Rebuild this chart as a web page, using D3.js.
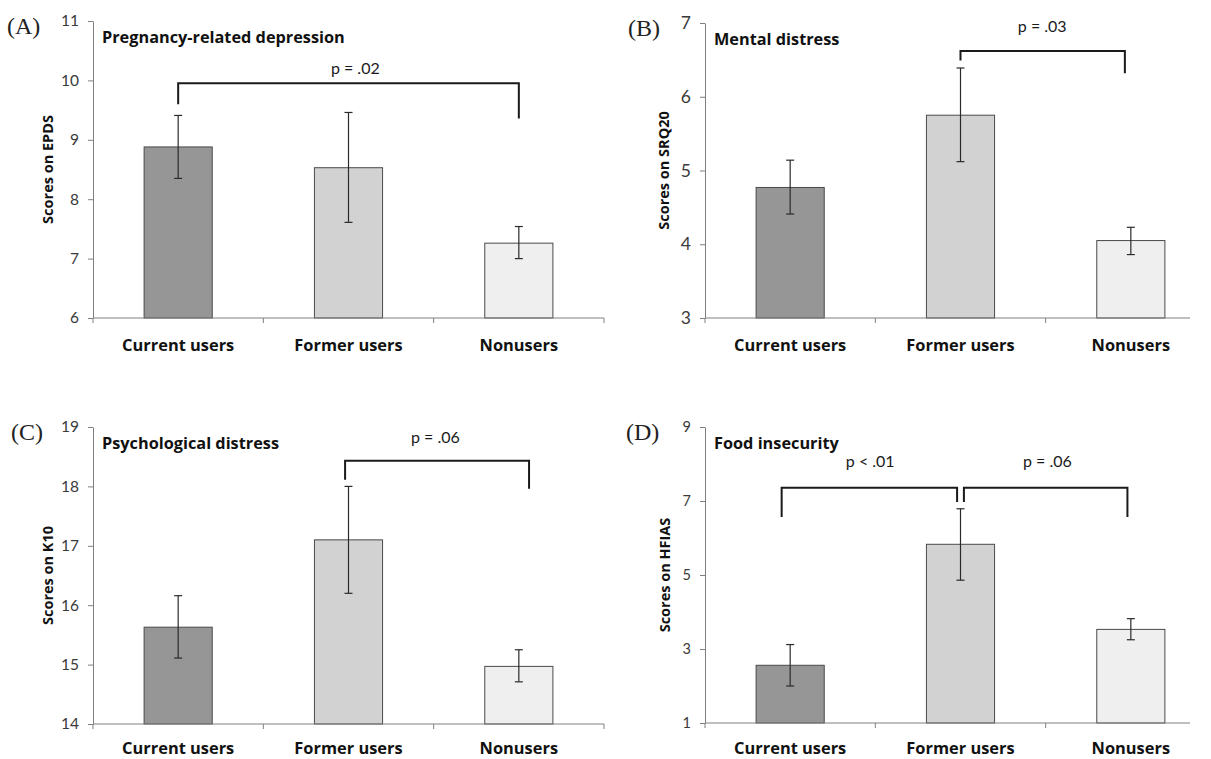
<!DOCTYPE html>
<html><head><meta charset="utf-8">
<script src="https://cdn.jsdelivr.net/npm/d3@7"></script>
<style>body{margin:0;background:#fff}svg{display:block}</style>
</head><body>
<svg id="chart" width="1211" height="759"></svg>
<script>
// ---- Data ----
const categories = ["Current users", "Former users", "Nonusers"];
const barColors = ["#969696", "#d2d2d2", "#efefef"];

const epdsMeans  = [8.88, 8.53, 7.26];
const epdsLower  = [8.35, 7.61, 7.00];
const epdsUpper  = [9.41, 9.46, 7.54];
const epdsTicks  = [6, 7, 8, 9, 10, 11];

const srqMeans   = [4.77, 5.75, 4.05];
const srqLower   = [4.41, 5.12, 3.86];
const srqUpper   = [5.14, 6.39, 4.23];
const srqTicks   = [3, 4, 5, 6, 7];

const k10Means   = [15.63, 17.10, 14.97];
const k10Lower   = [15.11, 16.20, 14.71];
const k10Upper   = [16.16, 18.00, 15.25];
const k10Ticks   = [14, 15, 16, 17, 18, 19];

const hfiasMeans = [2.56, 5.83, 3.53];
const hfiasLower = [2.00, 4.86, 3.25];
const hfiasUpper = [3.12, 6.79, 3.82];
const hfiasTicks = [1, 3, 5, 7, 9];

// brackets: [fromIndex, toIndex, level, fromEnd, toEnd, label, labelIndex, labelLevel]
const epdsBrackets  = [[0, 2, 9.95, 9.60, 9.36, "p = .02", 1.04, 10.2]];
const srqBrackets   = [[1, 1.965, 6.62, 6.49, 6.32, "p = .03", 1.48, 6.96]];
const k10Brackets   = [[0.98, 2.06, 18.43, 18.11, 17.96, "p = .06", 1.51, 18.83]];
const hfiasBrackets = [[-0.05, 0.98, 7.36, 6.57, 6.97, "p < .01", 0.47, 8.07],
                       [1.02, 1.98, 7.36, 6.97, 6.57, "p = .06", 1.51, 8.07]];

const panels = [
  {letter:"(A)", title:"Pregnancy-related depression", ytitle:"Scores on EPDS",
   means:epdsMeans, lower:epdsLower, upper:epdsUpper, ticks:epdsTicks, brackets:epdsBrackets,
   x0:93, top:21, bottom:318, xEnd:604, lineEnd:604, tickFont:15.5, ytitleX:48, letterX:7, catGap:33},
  {letter:"(B)", title:"Mental distress", ytitle:"Scores on SRQ20",
   means:srqMeans, lower:srqLower, upper:srqUpper, ticks:srqTicks, brackets:srqBrackets,
   x0:705, top:23, bottom:318, xEnd:1216, lineEnd:1190, tickFont:17.5, ytitleX:664, letterX:628, catGap:33},
  {letter:"(C)", title:"Psychological distress", ytitle:"Scores on K10",
   means:k10Means, lower:k10Lower, upper:k10Upper, ticks:k10Ticks, brackets:k10Brackets,
   x0:93, top:427, bottom:724, xEnd:604, lineEnd:604, tickFont:15.5, ytitleX:48, letterX:11, catGap:30},
  {letter:"(D)", title:"Food insecurity", ytitle:"Scores on HFIAS",
   means:hfiasMeans, lower:hfiasLower, upper:hfiasUpper, ticks:hfiasTicks, brackets:hfiasBrackets,
   x0:705, top:427, bottom:723, xEnd:1216, lineEnd:1190, tickFont:14.5, ytitleX:665, letterX:626, catGap:31}
];

const svg = d3.select("#chart");
const FONT = "'Open Sans', Lato, sans-serif";
const TFONT = "Lato, 'Open Sans', sans-serif";

panels.forEach(p => {
  const g = svg.append("g");
  const x = d3.scaleBand().domain(categories).range([p.x0, p.xEnd]).paddingInner(0).paddingOuter(0);
  const y = d3.scaleLinear().domain([p.ticks[0], p.ticks[p.ticks.length-1]]).range([p.bottom, p.top]);
  const cx = d3.scaleLinear().domain([0, 1]).range([x(categories[0]) + x.bandwidth()/2, x(categories[1]) + x.bandwidth()/2]);
  const barW = x.bandwidth() / 2.5;

  // y axis
  const ya = g.append("g").attr("transform", `translate(${p.x0},0)`)
    .call(d3.axisLeft(y).tickValues(p.ticks).tickSize(5).tickSizeOuter(0).tickPadding(9).tickFormat(d3.format("d")));
  ya.select(".domain").attr("stroke", "#808080");
  ya.selectAll(".tick line").attr("stroke", "#808080");
  ya.selectAll(".tick text").attr("font-family", TFONT).attr("font-size", p.tickFont).attr("fill", "#3a3a3a");

  // bars
  g.selectAll("rect.bar").data(categories).join("rect")
    .attr("x", d => x(d) + (x.bandwidth() - barW)/2)
    .attr("y", (d,i) => y(p.means[i]))
    .attr("width", barW)
    .attr("height", (d,i) => p.bottom - y(p.means[i]))
    .attr("fill", (d,i) => barColors[i])
    .attr("stroke", "#4a4a4a").attr("stroke-width", 1);

  // x axis line and boundary ticks
  g.append("line").attr("x1", p.x0).attr("x2", p.lineEnd).attr("y1", p.bottom).attr("y2", p.bottom)
    .attr("stroke", "#808080").attr("stroke-width", 1);
  const bounds = d3.range(categories.length + 1).map(i => p.x0 + i * x.step()).filter(v => v <= p.lineEnd + 0.5);
  g.selectAll("line.xt").data(bounds).join("line")
    .attr("x1", d => d).attr("x2", d => d).attr("y1", p.bottom).attr("y2", p.bottom + 5)
    .attr("stroke", "#808080");

  // category labels
  g.selectAll("text.cat").data(categories).join("text")
    .attr("x", d => x(d) + x.bandwidth()/2).attr("y", p.bottom + p.catGap)
    .attr("text-anchor", "middle").attr("font-family", FONT).attr("font-weight", "bold")
    .attr("font-size", 16.4).attr("fill", "#111").text(d => d);

  // error bars
  categories.forEach((c, i) => {
    const xc = x(c) + x.bandwidth()/2;
    g.append("line").attr("x1", xc).attr("x2", xc).attr("y1", y(p.lower[i])).attr("y2", y(p.upper[i]))
      .attr("stroke", "#2a2a2a").attr("stroke-width", 1.2);
    [p.lower[i], p.upper[i]].forEach(v => {
      g.append("line").attr("x1", xc - 4).attr("x2", xc + 4).attr("y1", y(v)).attr("y2", y(v))
        .attr("stroke", "#2a2a2a").attr("stroke-width", 1.2);
    });
  });

  // brackets
  p.brackets.forEach(b => {
    const [fi, ti, lvl, fe, te, label, li, ll] = b;
    g.append("path")
      .attr("d", `M${cx(fi)},${y(fe)}V${y(lvl)}H${cx(ti)}V${y(te)}`)
      .attr("fill", "none").attr("stroke", "#1a1a1a").attr("stroke-width", 2);
    g.append("text").attr("x", cx(li)).attr("y", y(ll)).attr("dy", "0.35em")
      .attr("text-anchor", "middle").attr("font-family", TFONT).attr("font-size", 16)
      .attr("fill", "#1a1a1a").text(label);
  });

  // panel title
  g.append("text").attr("x", p.x0 + 9).attr("y", p.top + 16).attr("dy", "0.35em")
    .attr("font-family", FONT).attr("font-weight", "bold").attr("font-size", 16.3)
    .attr("fill", "#111").text(p.title);

  // y-axis title
  g.append("text").attr("transform", `translate(${p.ytitleX},${(p.top + p.bottom)/2}) rotate(-90)`)
    .attr("dy", "0.35em").attr("text-anchor", "middle")
    .attr("font-family", FONT).attr("font-weight", "bold").attr("font-size", 14.5)
    .attr("fill", "#111").text(p.ytitle);

  // panel letter
  g.append("text").attr("x", p.letterX).attr("y", p.top + 5).attr("dy", "0.35em")
    .attr("font-family", "'Liberation Serif', 'Times New Roman', serif").attr("font-size", 24)
    .attr("fill", "#222").text(p.letter);
});
</script>
</body></html>
